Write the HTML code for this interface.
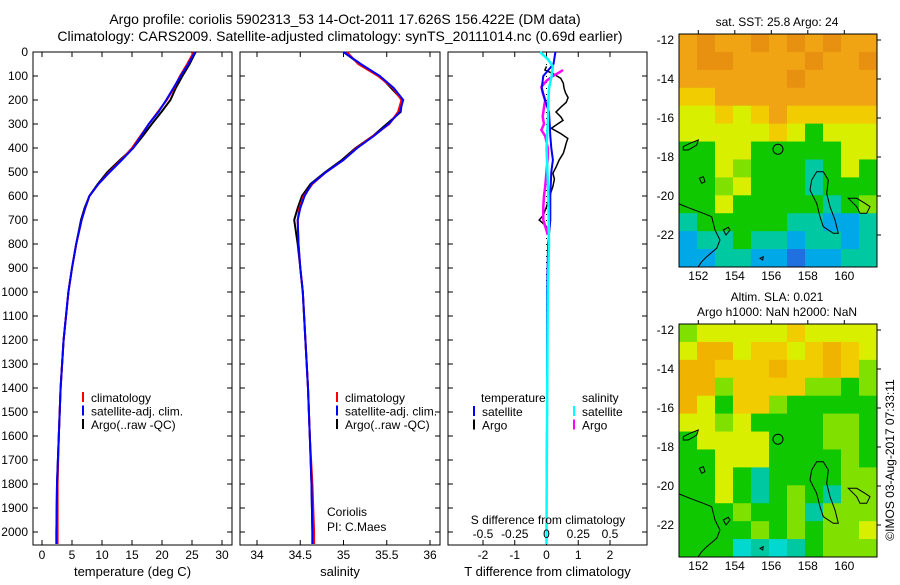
<!DOCTYPE html>
<html><head><meta charset="utf-8"><style>
body{margin:0;background:#fff;width:900px;height:580px;overflow:hidden}
svg{font-family:"Liberation Sans",sans-serif}
</style></head><body>
<svg id="c" width="900" height="580"></svg>
<script>
// ---- data ----
const depthTicks=[0,100,200,300,400,500,600,700,800,900,1000,1100,1200,1300,1400,1500,1600,1700,1800,1900,2000];
const tTicks=[0,5,10,15,20,25,30];
const sTicks=[34,34.5,35,35.5,36];
const dTTicks=[-2,-1,0,1,2];
const dSTicks=[-0.5,-0.25,0,0.25,0.5];
const dSTickLabels=["-0.5","-0.25","0","0.25","0.5"];
const profDepths=[0,50,100,150,200,250,300,350,400,450,500,550,600,650,700,800,900,1000,1200,1400,1600,1800,2000,2050];
const tempClim=[25.3,24.2,23.0,22.0,20.8,19.3,17.8,16.4,15.0,13.2,11.2,9.4,7.9,7.2,6.6,5.7,5.0,4.4,3.6,3.1,2.8,2.6,2.6,2.6];
const tempSat=[25.5,24.4,23.1,21.9,20.7,19.4,17.8,16.5,15.2,13.3,11.3,9.4,7.9,7.2,6.6,5.7,5.0,4.4,3.6,3.1,2.8,2.5,2.4,2.4];
const tempArgo=[25.6,24.6,23.4,22.3,21.4,19.9,18.3,16.8,15.2,13.0,10.9,9.3,7.9,7.1,6.5,5.7,5.0,4.4,3.6,3.1,2.8,2.5,2.4,2.4];
const salClim=[35.04,35.17,35.40,35.57,35.67,35.63,35.53,35.34,35.15,35.0,34.8,34.64,34.54,34.49,34.47,34.48,34.5,34.53,34.56,34.59,34.61,34.64,34.66,34.66];
const salSat=[35.0,35.20,35.42,35.58,35.69,35.65,35.52,35.35,35.16,35.0,34.8,34.63,34.55,34.5,34.47,34.48,34.5,34.53,34.56,34.59,34.61,34.63,34.64,34.64];
const salArgo=[35.0,35.19,35.42,35.55,35.68,35.66,35.50,35.34,35.14,34.98,34.79,34.62,34.52,34.47,34.43,34.47,34.5,34.53,34.56,34.59,34.61,34.63,34.64,34.64];
const argoTDepths=[60,75,90,110,130,150,170,190,210,230,250,270,285,300,318,340,360,380,400,422,450,480,505,530,560,600,645,680,700,715,728,750];
const argoTDiff=[0,-0.05,0.2,0.45,0.53,0.55,0.6,0.68,0.62,0.45,0.3,0.45,0.52,0.35,0.15,0.45,0.67,0.62,0.58,0.53,0.4,0.3,0.2,0.25,0.2,0.1,0,-0.1,-0.23,-0.1,0,0];
const satTDepths=[0,50,100,150,200,250,300,350,400,450,500,600,700,800,1000,1200,1500,1800,2000,2050];
const satTDiff=[0.28,0.22,-0.1,-0.15,-0.05,0.08,0.1,0.12,0.15,0.2,0.15,0.12,0.12,0.05,0.02,0.02,0.02,0.0,0.0,0.0];
const satSDepths=[0,30,60,100,150,200,300,400,600,800,1000,1500,2000,2050];
const satSDiff=[-0.05,0.01,0.05,0.04,0.02,0.015,0.01,0.0,0.015,0.02,0.01,0.005,0,0];
const argoSDepths=[75,85,100,120,145,170,200,230,270,300,325,350,400,440,500,560,600,645,700,762];
const argoSDiff=[0.13,0.1,0.05,0.0,-0.04,-0.03,-0.01,-0.02,-0.03,-0.02,-0.04,-0.01,0.01,0.01,0.0,-0.01,-0.02,-0.025,-0.025,0.01];
const lonTicks=[152,154,156,158,160];
const latTicks=[-12,-14,-16,-18,-20,-22];
const palette=["#e89010","#f0a414","#f0cc00","#d8f000","#80e000","#10c800","#00c8a0","#00a8e8","#2070e0","#f0b400","#00d8d0"];
const sstGrid=[
[1,0,1,1,0,1,0,1,0,1,1],
[1,0,0,1,1,1,1,0,1,1,0],
[1,1,1,1,1,1,0,1,1,1,1],
[2,2,1,1,1,1,1,1,1,1,1],
[3,3,2,3,2,1,2,2,2,2,2],
[3,3,3,3,3,2,3,5,3,3,3],
[5,5,3,3,5,5,5,5,5,3,3],
[5,5,3,4,5,5,5,6,5,3,5],
[5,5,4,3,5,5,5,6,5,5,5],
[5,5,3,5,5,5,5,5,6,5,4],
[6,5,5,5,5,5,6,6,7,7,6],
[7,6,6,5,6,6,7,6,6,7,6],
[7,7,6,6,7,7,8,7,7,6,6]];
const slaGrid=[
[4,3,3,3,3,3,2,3,3,3,3],
[3,9,9,3,2,2,3,2,9,2,3],
[9,9,2,2,2,9,2,2,9,2,4],
[9,9,4,2,2,2,2,4,4,5,4],
[9,3,5,2,2,4,5,5,5,5,5],
[3,3,4,3,5,5,5,5,4,4,5],
[5,3,3,3,3,5,5,5,4,4,5],
[5,5,3,3,3,5,5,5,5,4,5],
[5,5,3,5,6,5,5,5,5,4,4],
[5,5,3,5,6,5,4,5,6,4,4],
[5,5,5,4,5,5,4,6,4,4,4],
[5,5,5,5,4,5,4,5,4,4,3],
[5,5,5,10,6,10,6,5,4,4,4]];
// ---- drawing ----
const NS="http://www.w3.org/2000/svg",svg=document.getElementById('c');
function el(tag,attrs,parent,txt){const e=document.createElementNS(NS,tag);for(const k in attrs)e.setAttribute(k,attrs[k]);if(txt!==undefined)e.textContent=txt;(parent||svg).appendChild(e);return e;}
const yD=d=>52+0.24*d;
const PB=545;
function text(x,y,s,anchor,size,name,parent){const t=el('text',{x:x,y:y,'text-anchor':anchor||'middle','font-size':size||12,fill:'#000'},parent,s);

return t;}
function panel(x0,x1,xs,ticks,labels,title,name){
 const g=el('g',{});
 
 
 const r=el('rect',{x:x0,y:52,width:x1-x0,height:PB-52,fill:'none',stroke:'#000','stroke-width':1},g);
 
 
 ticks.forEach((v,i)=>{const x=xs(v);el('line',{x1:x,x2:x,y1:PB,y2:PB-5,stroke:'#000'},g);el('line',{x1:x,x2:x,y1:52,y2:57,stroke:'#000'},g);
  if(labels)text(x,559,labels[i],'middle',12,'x-tick-label',g);});
 depthTicks.forEach(d=>{el('line',{x1:x0,x2:x0+5,y1:yD(d),y2:yD(d),stroke:'#000'},g);el('line',{x1:x1,x2:x1-5,y1:yD(d),y2:yD(d),stroke:'#000'},g);});
 text((x0+x1)/2,576,title,'middle',13,'x-axis-title',g);
 return g;}
function line(xs,vals,depths,color,w,name,parent){
 const pts=vals.map((v,i)=>xs(v).toFixed(1)+','+yD(depths[i]).toFixed(1)).join(' ');
 const p=el('polyline',{points:pts,fill:'none',stroke:color,'stroke-width':w||2},parent);
 
 }
function legend(x,y,items,parent){items.forEach((it,i)=>{el('line',{x1:x,x2:x,y1:y+i*13.5-10,y2:y+i*13.5,stroke:it[1],'stroke-width':2},parent);text(x+8,y+i*13.5,it[0],'start',12,'legend-entry',parent);});}
text(345,24,'Argo profile: coriolis 5902313_53 14-Oct-2011 17.626S 156.422E (DM data)','middle',14,'title-line-1');
text(340,41,'Climatology: CARS2009. Satellite-adjusted climatology: synTS_20111014.nc (0.69d earlier)','middle',14,'title-line-2');
depthTicks.forEach(d=>text(28,yD(d)+4,String(d),'end',12,'depth-tick-label'));
const xT=v=>42+6*v;
const g1=panel(33,232,xT,tTicks,tTicks.map(String),'temperature (deg C)','temperature-panel');
line(xT,tempArgo,profDepths,'#000',2,'temp-argo-line',g1);
line(xT,tempClim,profDepths,'#f00',2,'temp-climatology-line',g1);
line(xT,tempSat,profDepths,'#00f',2,'temp-satellite-line',g1);
legend(83,402,[['climatology','#f00'],['satellite-adj. clim.','#00f'],['Argo(..raw -QC)','#000']],g1);
const xS=v=>257+86.5*(v-34);
const g2=panel(240,440,xS,sTicks,sTicks.map(String),'salinity','salinity-panel');
line(xS,salArgo,profDepths,'#000',2,'sal-argo-line',g2);
line(xS,salClim,profDepths,'#f00',2,'sal-climatology-line',g2);
line(xS,salSat,profDepths,'#00f',2,'sal-satellite-line',g2);
legend(337,402,[['climatology','#f00'],['satellite-adj. clim.','#00f'],['Argo(..raw -QC)','#000']],g2);
text(327,516,'Coriolis','start',12,'institution-label',g2);
text(327,531,'PI: C.Maes','start',12,'pi-label',g2);
const xDT=v=>546.5+31.75*v, xDS=v=>546.5+127*v;
const g3=panel(448,647,xDT,dTTicks,dTTicks.map(String),'T difference from climatology','difference-panel');
el('line',{x1:546.5,x2:546.5,y1:52,y2:PB,stroke:'#000','stroke-dasharray':'1,5'},g3);
line(xDT,argoTDiff,argoTDepths,'#000',1.5,'tdiff-argo-line',g3);
line(xDS,argoSDiff,argoSDepths,'#f0f',2.5,'sdiff-argo-line',g3);
line(xDT,satTDiff,satTDepths,'#00f',2,'tdiff-satellite-line',g3);
line(xDS,satSDiff,satSDepths,'#0ff',2.5,'sdiff-satellite-line',g3);
legend(474,416,[['satellite','#00f'],['Argo','#000']],g3);
legend(574,416,[['satellite','#0ff'],['Argo','#f0f']],g3);
text(481,402,'temperature','start',12,'legend-title-temperature',g3);
text(582,402,'salinity','start',12,'legend-title-salinity',g3);
text(548,524,'S difference from climatology','middle',12,'s-diff-axis-title',g3);
dSTicks.forEach((v,i)=>text(xDS(v),538,dSTickLabels[i],'middle',12,'s-diff-tick-label',g3));
function map(top,grid,name){
 const L=679,R=877,B=top+233,g=el('g',{});
 
 
 const lonX=v=>698.3+18.25*(v-152), latY=v=>top+6+19.5*(-12-v);
 const rows=grid.length,cols=grid[0].length,cw=(R-L)/cols,ch=(B-top)/rows;
 grid.forEach((row,r)=>row.forEach((c,k)=>{const cell=el('rect',{x:L+k*cw,y:top+r*ch,width:cw+0.5,height:ch+0.5,fill:palette[c]},g);
  
  }));
 const P=a=>a.map(p=>(670+p[0]/3).toFixed(1)+','+(top-34+p[1]/3).toFixed(1)).join(' ');
 el('polyline',{points:P([[28,612],[60,625],[100,640],[125,650],[135,690],[150,720],[140,745],[110,770],[95,785],[85,800]]),fill:'none',stroke:'#000'},g);
 [[[440,515],[460,515],[475,540],[470,580],[480,620],[495,660],[505,700],[490,700],[460,680],[450,650],[440,610],[430,590],[420,570],[425,540]],
  [[535,595],[560,595],[585,610],[600,620],[590,640],[570,640],[560,620],[545,605]],
  [[40,440],[60,430],[85,420],[80,435],[55,450],[40,450]],
  [[88,535],[100,530],[105,545],[95,550]],[[160,690],[175,682],[180,690],[168,705]],[[270,775],[280,770],[278,780]]
 ].forEach(a=>el('polygon',{points:P(a),fill:'none',stroke:'#000'},g));
 el('circle',{cx:778,cy:latY(-17.6),r:5,fill:'none',stroke:'#000'},g);
 el('rect',{x:L,y:top,width:R-L,height:B-top,fill:'none',stroke:'#000'},g);
 lonTicks.forEach(v=>{el('line',{x1:lonX(v),x2:lonX(v),y1:top,y2:top-4,stroke:'#000'},g);text(lonX(v),B+13,String(v),'middle',12,'lon-tick-label',g);});
 latTicks.forEach(v=>{el('line',{x1:R,x2:R+4,y1:latY(v),y2:latY(v),stroke:'#000'},g);text(674,latY(v)+4,String(v),'end',12,'lat-tick-label',g);});
 return g;}
map(34,sstGrid,'sst-map');
map(324,slaGrid,'sla-map');
text(777,26,'sat. SST: 25.8 Argo: 24','middle',12,'sst-map-title');
text(777,301,'Altim. SLA: 0.021','middle',12,'sla-map-title');
text(777,316,'Argo h1000: NaN h2000: NaN','middle',12,'sla-map-subtitle');
const cr=text(0,0,'©IMOS 03-Aug-2017 07:33:11','middle',12,'copyright-stamp');
cr.setAttribute('transform','translate(894,460) rotate(-90)');
</script>
</body></html>
